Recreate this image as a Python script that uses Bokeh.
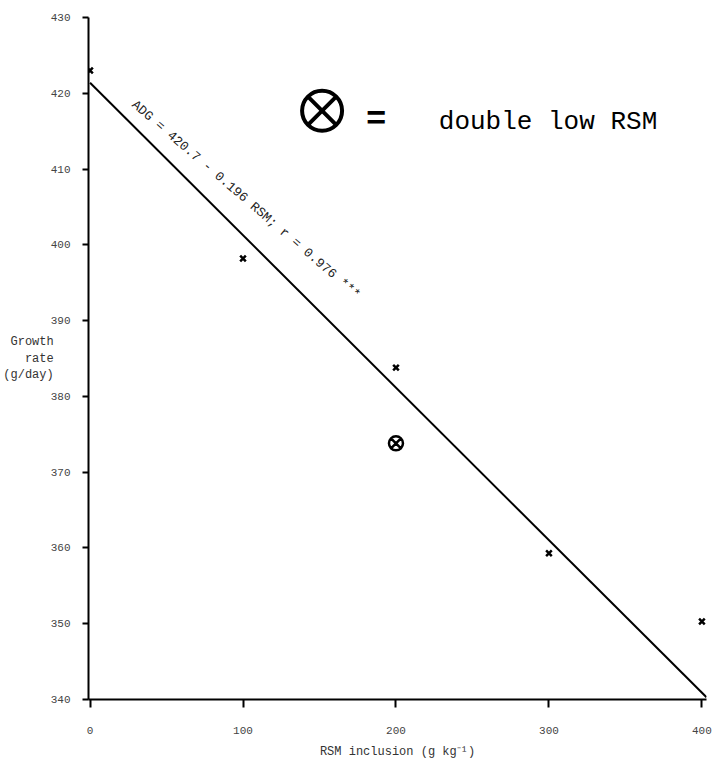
from bokeh.plotting import figure
from bokeh.models import Range1d, Label, FixedTicker, ColumnDataSource
from bokeh.embed import file_html
from bokeh.resources import INLINE

# ---- data ----
rsm = [0, 100, 200, 300, 400]
growth = [423.0, 398.2, 383.8, 359.3, 350.3]
double_rsm = [200]
double_growth = [373.8]
# regression line end points as drawn
fit_x = [0, 403]
fit_y = [421.4, 340.3]
x_ticks = [0, 100, 200, 300, 400]
y_ticks = [340, 350, 360, 370, 380, 390, 400, 410, 420, 430]
equation = "ADG = 420.7 - 0.196 RSM; r = 0.976 ***"
legend_text = "double low RSM"
y_label = "Growth\nrate\n(g/day)"
x_label = "RSM inclusion (g kg⁻¹)"

MONO = "Liberation Mono"

p = figure(width=719, height=761, output_backend="svg", toolbar_location=None,
           x_range=Range1d(-1, 403), y_range=Range1d(340, 430),
           min_border_left=88, min_border_right=13, min_border_top=17,
           min_border_bottom=62)
p.outline_line_color = None
p.grid.visible = False
p.background_fill_color = "white"

for ax in (p.xaxis[0], p.yaxis[0]):
    ax.axis_line_width = 2
    ax.major_tick_line_width = 2
    ax.minor_tick_line_color = None
    ax.major_tick_in = 0
    ax.major_label_text_font = MONO
    ax.major_label_text_font_size = "11px"
    ax.major_label_text_color = "#444444"
    ax.axis_label_text_font = MONO
    ax.axis_label_text_font_style = "normal"
    ax.axis_label_text_font_size = "12px"
    ax.axis_label_text_color = "#333333"
p.xaxis.ticker = FixedTicker(ticks=x_ticks)
p.yaxis.ticker = FixedTicker(ticks=y_ticks)
p.xaxis.major_tick_out = 8
p.yaxis.major_tick_out = 6
p.xaxis.major_label_standoff = 19
p.yaxis.major_label_standoff = 12
p.xaxis.axis_label = x_label
p.xaxis.axis_label_standoff = 8
p.yaxis.axis_label = y_label
p.yaxis.axis_label_orientation = "horizontal"
p.yaxis.axis_label_standoff = -6

# regression line
p.line(fit_x, fit_y, line_color="black", line_width=2)

# points
src = ColumnDataSource(dict(x=rsm, y=growth))
p.scatter("x", "y", source=src, marker="x", size=8, line_width=2.5, line_color="black")
p.scatter(double_rsm, double_growth, marker="circle_x", size=14, line_width=2.5,
          line_color="black", fill_color="white")

# equation along the line
p.add_layout(Label(x=28.4, y=418.7, text=equation, angle=-0.71,
                   text_font=MONO, text_font_size="13px", text_color="#222222",
                   text_align="left", text_baseline="middle"))

# legend: symbol = text
p.scatter([151.7], [417.7], marker="circle_x", size=40, line_width=4,
          line_color="black", fill_color="white")
p.add_layout(Label(x=187, y=416.9, text="=", text_font="Liberation Sans",
                   text_font_style="bold", text_font_size="34px", text_color="black",
                   text_align="center", text_baseline="middle"))
p.add_layout(Label(x=228, y=416.15, text=legend_text, text_font=MONO,
                   text_font_size="26px", text_color="black", text_align="left",
                   text_baseline="alphabetic"))

open("out.html", "w").write(file_html(p, INLINE))
